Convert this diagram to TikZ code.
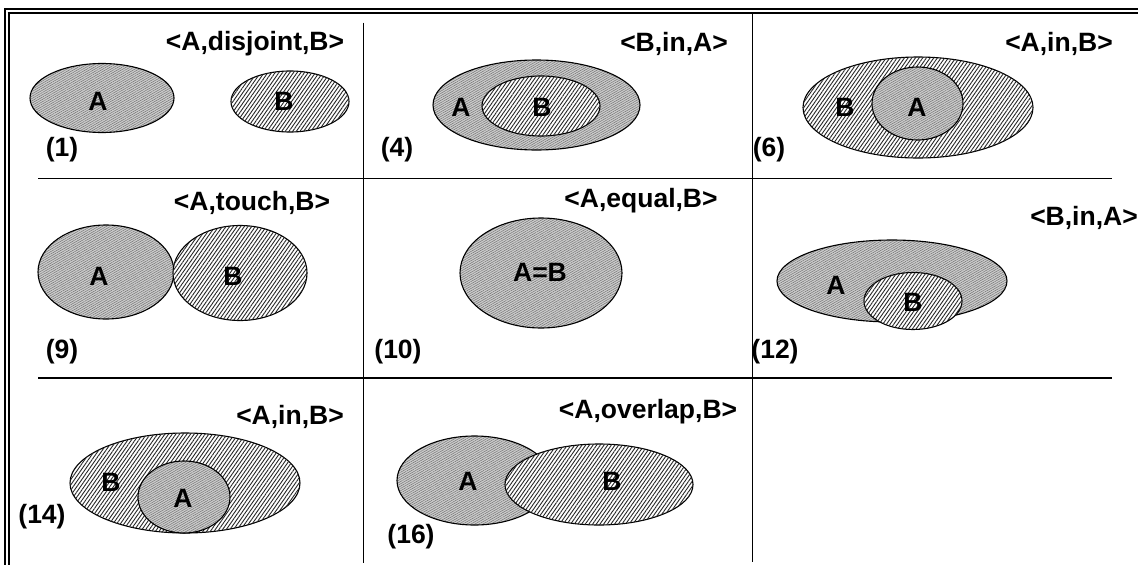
\documentclass[tikz,border=0pt]{standalone}
\usepackage{fontspec}
\setmainfont{Liberation Sans}
\usetikzlibrary{shapes.geometric,patterns.meta}
\begin{document}
\begin{tikzpicture}[x=1pt,y=-1pt,
  every node/.style={font=\fontsize{26.5}{31}\selectfont\bfseries},
  setA/.style={ellipse,draw,line width=1.1pt,inner sep=0pt,
    preaction={fill=gray!40},
    pattern={Lines[angle=30,distance=2pt,line width=0.5pt]},pattern color=gray!90!black},
  setB/.style={ellipse,draw,line width=1.1pt,inner sep=0pt,fill=white,
    postaction={pattern={Lines[angle=55,distance=3pt,line width=0.9pt]},pattern color=black!85}},
  lbl/.style={inner sep=0pt},
  grid/.style={line width=1.4pt},
  frame/.style={line width=2pt}]
\useasboundingbox (0,0) rectangle (1138,565);
% frame
\draw[frame] (4,8.5) -- (1138,8.5);
\draw[frame] (7.5,13.2) -- (1138,13.2);
\draw[frame] (4.8,8.5) -- (4.8,565);
\draw[frame] (8.6,13.2) -- (8.6,565);
% grid
\draw[grid] (363.3,22.7) -- (363.3,563);
\draw[grid] (752.3,13) -- (752.3,562);
\draw[grid] (38,178.5) -- (1112,178.5);
\draw[grid] (38,378) -- (1112,378);
% panel 1
\node[setA,minimum width=144pt,minimum height=69pt] (a1) at (102,98) {};
\node[setB,minimum width=118pt,minimum height=61pt] (b1) at (290,101.5) {};
\node[lbl] (ta1) at (98,101) {A};
\node[lbl] (tb1) at (284,101) {B};
\node[lbl] (t1) at (255,44) {<A,disjoint,B>};
\node[lbl] (n1) at (62,150) {(1)};
% panel 4
\node[setA,minimum width=207pt,minimum height=90pt] (a4) at (536.5,105) {};
\node[setB,minimum width=118pt,minimum height=60pt] (b4) at (541,106) {};
\node[lbl] (ta4) at (461,107) {A};
\node[lbl] (tb4) at (542,107) {B};
\node[lbl] (t4) at (674,44) {<B,in,A>};
\node[lbl] (n4) at (397,150) {(4)};
% panel 6
\node[setB,minimum width=230pt,minimum height=101pt] (b6) at (918,107.5) {};
\node[setA,minimum width=91pt,minimum height=73pt] (a6) at (917.5,103.5) {};
\node[lbl] (tb6) at (845,107) {B};
\node[lbl] (ta6) at (917,107) {A};
\node[lbl] (t6) at (1059,44) {<A,in,B>};
\node[lbl] (n6) at (769,150) {(6)};
% panel 9
\node[setA,minimum width=136pt,minimum height=94pt] (a9) at (106,272) {};
\node[setB,minimum width=134pt,minimum height=95pt] (b9) at (240,273) {};
\node[lbl] (ta9) at (99,276) {A};
\node[lbl] (tb9) at (233,276) {B};
\node[lbl] (t9) at (252,203) {<A,touch,B>};
\node[lbl] (n9) at (62,352) {(9)};
% panel 10
\node[setA,minimum width=162pt,minimum height=110pt] (a10) at (541,273) {};
\node[lbl] (tab10) at (540,272) {A=B};
\node[lbl] (t10) at (641,201) {<A,equal,B>};
\node[lbl] (n10) at (398,352) {(10)};
% panel 12
\node[setA,minimum width=230pt,minimum height=82pt] (a12) at (892,281) {};
\node[setB,minimum width=98pt,minimum height=57pt] (b12) at (913,301) {};
\node[lbl] (ta12) at (836,285) {A};
\node[lbl] (tb12) at (913,302) {B};
\node[lbl] (t12) at (1084,218) {<B,in,A>};
\node[lbl] (n12) at (775,352) {(12)};
% panel 14
\node[setB,minimum width=230pt,minimum height=100pt] (b14) at (185,483) {};
\node[setA,minimum width=92pt,minimum height=72pt] (a14) at (184,497) {};
\node[lbl] (tb14) at (111,482) {B};
\node[lbl] (ta14) at (183,498) {A};
\node[lbl] (t14) at (290,417) {<A,in,B>};
\node[lbl] (n14) at (42,517) {(14)};
% panel 16
\node[setA,minimum width=155pt,minimum height=89pt] (a16) at (474.5,480.5) {};
\node[setB,minimum width=188pt,minimum height=81pt] (b16) at (599,484.5) {};
\node[lbl] (ta16) at (468,481) {A};
\node[lbl] (tb16) at (612,481) {B};
\node[lbl] (t16) at (648,412) {<A,overlap,B>};
\node[lbl] (n16) at (411,537) {(16)};
\end{tikzpicture}
\end{document}
